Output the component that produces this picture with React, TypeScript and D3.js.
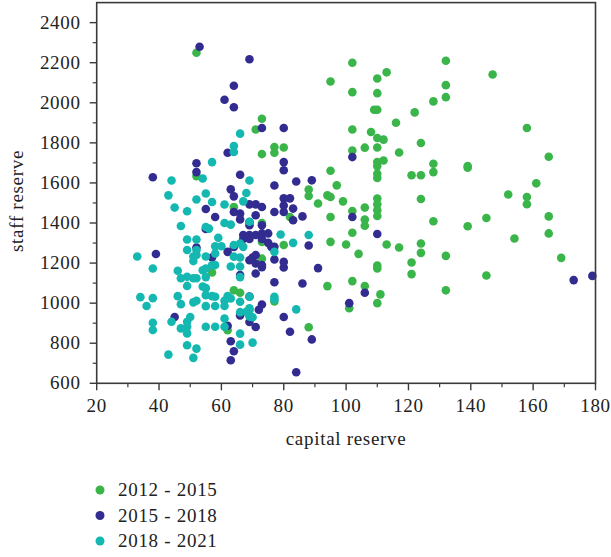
import React from "react";
import * as d3 from "d3";

const seriesNames = ["2012 - 2015", "2015 - 2018", "2018 - 2021"];
const seriesColors = ["#3ab54a", "#332c90", "#15b8b1"];

const xTicks = [20, 40, 60, 80, 100, 120, 140, 160, 180];
const yTicks = [600, 800, 1000, 1200, 1400, 1600, 1800, 2000, 2200, 2400];

// 2012 - 2015 (capital reserve, staff reserve)
const s1 = [
  [52,2250],[73,1920],[71,1867],[73,1744],[77,1779],[77,1751],[80,1777],[52,1634],[88,1567],[88,1535],
  [64,1480],[73,1400],[82,1430],[73,1306],[80,1290],[73,1222],[57,1153],[64,1064],[66,1052],[77,1008],
  [62,865],[88,880],[91,1497],[102,2200],[132,2210],[113,2152],[95,2106],[110,2121],[147,2141],[102,2053],
  [110,2048],[132,2088],[132,2028],[128,2007],[109,1965],[110,1965],[122,1952],[116,1900],[158,1874],[102,1867],
  [108,1854],[110,1824],[112,1816],[106,1776],[110,1777],[124,1799],[102,1762],[117,1752],[165,1731],[110,1704],
  [112,1712],[110,1684],[95,1661],[128,1696],[128,1654],[139,1684],[139,1676],[110,1646],[110,1625],[121,1638],
  [124,1638],[97,1588],[161,1598],[152,1542],[158,1530],[158,1494],[94,1538],[95,1530],[110,1522],[124,1520],
  [99,1508],[102,1460],[106,1477],[110,1494],[110,1464],[110,1435],[95,1430],[106,1417],[106,1386],[102,1351],
  [128,1409],[139,1384],[145,1425],[165,1433],[165,1348],[154,1323],[169,1226],[95,1306],[100,1293],[104,1246],
  [113,1293],[117,1278],[124,1298],[124,1251],[132,1236],[110,1188],[110,1173],[121,1203],[121,1145],[145,1138],
  [94,1085],[102,1110],[106,1085],[111,1044],[110,1000],[101,975],[132,1064]
];

// 2015 - 2018
const s2 = [
  [53,2280],[69,2217],[64,2085],[61,2015],[64,1978],[73,1874],[80,1874],[62,1751],[52,1698],[52,1654],
  [66,1641],[80,1704],[80,1663],[38,1628],[77,1587],[84,1607],[89,1613],[63,1568],[64,1533],[80,1523],
  [82,1523],[102,1729],[86,1433],[102,1430],[88,1288],[91,1175],[86,1098],[110,1345],[106,1052],[101,1000],
  [89,819],[173,1115],[179,1136],[55,1470],[58,1430],[55,1370],[39,1245],[52,1278],[69,1493],[71,1493],
  [73,1480],[66,1447],[64,1455],[66,1418],[69,1389],[71,1439],[73,1389],[80,1487],[80,1455],[83,1472],
  [83,1414],[77,1455],[67,1340],[69,1340],[71,1340],[67,1320],[69,1320],[73,1348],[75,1348],[73,1320],
  [75,1301],[77,1281],[57,1228],[62,1256],[64,1281],[69,1214],[70,1228],[71,1198],[73,1190],[73,1180],
  [71,1148],[66,1140],[77,1218],[80,1206],[80,1178],[77,1104],[69,1033],[73,993],[72,967],[66,939],
  [80,931],[69,906],[71,881],[62,887],[45,931],[82,857],[63,810],[64,760],[63,715],[84,655],
  [69,1405],[71,1240],[76,1281]
];

// 2018 - 2021
const s3 = [
  [66,1846],[64,1784],[64,1754],[57,1704],[44,1612],[54,1622],[69,1612],[43,1538],[55,1547],[68,1550],
  [52,1517],[57,1505],[45,1477],[49,1459],[61,1492],[67,1508],[69,1406],[61,1400],[63,1392],[55,1380],
  [56,1372],[47,1385],[79,1343],[49,1318],[49,1265],[52,1318],[52,1265],[52,1240],[51,1210],[59,1326],
  [58,1284],[60,1284],[58,1248],[64,1290],[66,1298],[64,1232],[63,1183],[66,1228],[66,1183],[66,1130],
  [67,1281],[77,1256],[83,1301],[88,1340],[33,1233],[38,1173],[46,1162],[47,1124],[49,1132],[51,1124],
  [52,1124],[49,1086],[54,1164],[55,1130],[54,1083],[55,1075],[34,1030],[38,1025],[36,986],[46,1035],
  [47,995],[51,1004],[52,1012],[55,1040],[57,1035],[58,1032],[55,985],[58,986],[61,1012],[62,1035],
  [63,1023],[61,986],[66,1007],[69,1032],[77,1032],[77,1019],[66,955],[69,974],[69,933],[70,930],
  [84,969],[38,902],[38,866],[44,907],[47,874],[49,907],[49,882],[49,849],[50,931],[55,882],
  [58,882],[61,923],[61,882],[66,848],[66,793],[70,803],[43,743],[49,790],[52,773],[51,727],
  [51,1233],[55,1233],[58,1190],[55,1173],[68,957],[69,965],[57,1189]
];

const allSeries = [s1, s2, s3];

const W = 611, H = 557;
const left = 96.7, right = 595.5, top = 2.6, bottom = 383.3;
const axisColor = "#3a3a3a";
const font = "'Liberation Serif', 'Times New Roman', serif";
const fs = 19;
const ls = 0.7;

export default function App() {
  const x = d3.scaleLinear().domain([20, 180]).range([left, right]);
  const y = d3.scaleLinear().domain([600, 2500]).range([bottom, top]);
  const xMinor = d3.range(30, 180, 20);
  const yMinor = d3.range(700, 2500, 200);
  return (
    <svg width={W} height={H} style={{ position: "absolute", left: 0, top: 0, background: "#fff" }}>
      <rect x={0} y={0} width={W} height={H} fill="#fff" />
      {allSeries.map((s, i) => (
        <g key={i} fill={seriesColors[i]}>
          {s.map((d, j) => (
            <circle key={j} cx={x(d[0])} cy={y(d[1])} r={4.3} />
          ))}
        </g>
      ))}
      <rect x={left} y={top} width={right - left} height={bottom - top} fill="none" stroke={axisColor} strokeWidth={1.6} />
      {xTicks.map((t) => (
        <g key={"xt" + t}>
          <line x1={x(t)} x2={x(t)} y1={bottom} y2={bottom + 7} stroke={axisColor} strokeWidth={1.4} />
          <text x={x(t)} y={bottom + 29} textAnchor="middle" fontFamily={font} fontSize={fs} letterSpacing={ls} fill="#222">{t}</text>
        </g>
      ))}
      {xMinor.map((t) => (
        <line key={"xm" + t} x1={x(t)} x2={x(t)} y1={bottom} y2={bottom + 4} stroke={axisColor} strokeWidth={1.2} />
      ))}
      {yTicks.map((t) => (
        <g key={"yt" + t}>
          <line x1={left - 7} x2={left} y1={y(t)} y2={y(t)} stroke={axisColor} strokeWidth={1.4} />
          <text x={left - 16} y={y(t) + 6} textAnchor="end" fontFamily={font} fontSize={fs} letterSpacing={ls} fill="#222">{t}</text>
        </g>
      ))}
      {yMinor.map((t) => (
        <line key={"ym" + t} x1={left - 4} x2={left} y1={y(t)} y2={y(t)} stroke={axisColor} strokeWidth={1.2} />
      ))}
      <text x={(left + right) / 2} y={445} textAnchor="middle" fontFamily={font} fontSize={fs} letterSpacing={ls} fill="#222">capital reserve</text>
      <text transform={`translate(23,${(top + bottom) / 2 + 8}) rotate(-90)`} textAnchor="middle" fontFamily={font} fontSize={fs} letterSpacing={ls} fill="#222">staff reserve</text>
      {seriesNames.map((n, i) => (
        <g key={n} transform={`translate(100,${490 + i * 25.5})`}>
          <circle cx={0} cy={0} r={4.5} fill={seriesColors[i]} />
          <text x={18} y={6} fontFamily={font} fontSize={fs} letterSpacing={ls} fill="#222">{n}</text>
        </g>
      ))}
    </svg>
  );
}
